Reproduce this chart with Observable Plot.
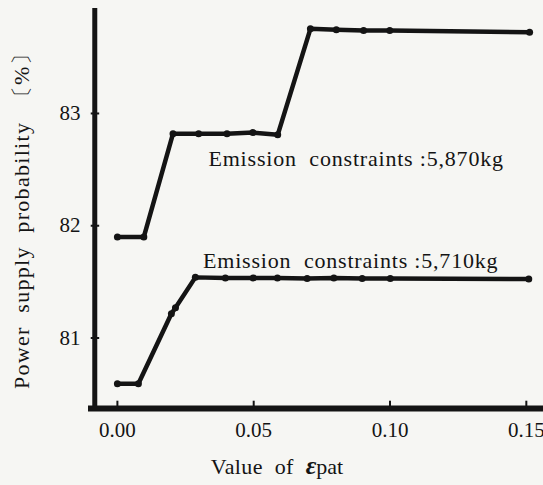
<!DOCTYPE html>
<html>
<head>
<meta charset="utf-8">
<script src="https://cdn.jsdelivr.net/npm/d3@7"></script>
<script src="https://cdn.jsdelivr.net/npm/@observablehq/plot@0.6"></script>
<style>
  html, body { margin: 0; padding: 0; background: #f6f6f3; }
</style>
</head>
<body>
<div id="chart"></div>
<script>
// ---- data ----
const xTicks = [0, 0.05, 0.10, 0.15];
const yTicks = [81, 82, 83];

// Emission constraints: 5,870 kg
const upperX = [0, 0.0097, 0.0204, 0.0298, 0.0402, 0.0497, 0.0588, 0.0708, 0.0803, 0.0903, 0.0999, 0.1512];
const upperY = [81.90, 81.90, 82.82, 82.82, 82.82, 82.83, 82.81, 83.754, 83.745, 83.74, 83.74, 83.724];

// Emission constraints: 5,710 kg
const lowerX = [0, 0.0077, 0.0198, 0.0213, 0.0286, 0.0396, 0.0498, 0.0587, 0.0696, 0.0794, 0.0898, 0.1001, 0.1509];
const lowerY = [80.593, 80.593, 81.216, 81.27, 81.54, 81.535, 81.535, 81.535, 81.53, 81.535, 81.53, 81.53, 81.525];

const seriesLabels = ["Emission  constraints :5,870kg", "Emission  constraints :5,710kg"];
const labelX = [0.0334, 0.0314];
const labelY = [82.595, 81.685];

const yTitle = "Power  supply  probability  〔%〕";
const xTitle = "Value of εpat";

// axis extents
const xMin = -0.0106, xMax = 0.1563;
const yMin = 80.372, yMax = 83.935;
const yAxisX = -0.0083;

const ink = "#141414";
const upper = upperX.map((x, i) => ({x, y: upperY[i]}));
const lower = lowerX.map((x, i) => ({x, y: lowerY[i]}));
const labels = seriesLabels.map((t, i) => ({t, x: labelX[i], y: labelY[i]}));

const chart = Plot.plot({
  width: 543,
  height: 485,
  marginLeft: 88,
  marginRight: 0,
  marginTop: 8,
  marginBottom: 77,
  x: {domain: [xMin, xMax], axis: null},
  y: {domain: [yMin, yMax], axis: null},
  style: {fontFamily: "'Liberation Serif', serif", fontSize: "21px", background: "#f6f6f3", color: ink},
  marks: [
    Plot.ruleX([yAxisX], {y1: () => yMin - 0.02, y2: () => yMax, stroke: ink, strokeWidth: 5}),
    Plot.ruleY([yMin], {x1: () => xMin, x2: () => xMax, stroke: ink, strokeWidth: 6}),
    Plot.ruleX(xTicks, {y1: () => yMin, y2: () => yMin + 0.065, stroke: ink, strokeWidth: 2}),
    Plot.ruleY(yTicks, {x1: () => yAxisX - 0.0013, x2: () => yAxisX + 0.0018, stroke: ink, strokeWidth: 2}),
    Plot.axisX({ticks: xTicks, tickSize: 0, tickPadding: 14, tickFormat: d3.format(".2f"), fontSize: 21, label: null}),
    Plot.axisY({ticks: yTicks, tickSize: 0, tickPadding: 8, tickFormat: d3.format("d"), fontSize: 21, label: null}),
    Plot.line(upper, {x: "x", y: "y", stroke: ink, strokeWidth: 4.5}),
    Plot.dot(upper, {x: "x", y: "y", r: 3.5, fill: ink}),
    Plot.line(lower, {x: "x", y: "y", stroke: ink, strokeWidth: 4.5}),
    Plot.dot(lower, {x: "x", y: "y", r: 3.5, fill: ink}),
    Plot.text(labels, {x: "x", y: "y", text: "t", textAnchor: "start", lineAnchor: "middle", fontSize: 22, fill: ink, className: "slabel"}),
    Plot.text([yTitle], {frameAnchor: "left", textAnchor: "middle", lineAnchor: "middle", dx: -67, dy: 7, rotate: -90, fontSize: 22, fill: ink, className: "ytitle"}),
    Plot.text([xTitle], {frameAnchor: "bottom", textAnchor: "middle", lineAnchor: "middle", dx: -39, dy: 58, fontSize: 22, fill: ink, className: "xtitle"})
  ]
});
document.getElementById("chart").appendChild(chart);

// preserve the wide word gaps and style the epsilon
d3.select(chart).selectAll("text").style("white-space", "pre");
d3.select(chart).selectAll(".slabel text").style("letter-spacing", "0.8px");
d3.select(chart).selectAll(".ytitle text").style("letter-spacing", "1.3px");
d3.select(chart).selectAll(".xtitle text").each(function() {
  const t = d3.select(this);
  t.text(null);
  t.append("tspan").text("Value  of  ").style("letter-spacing", "0.4px");
  t.append("tspan").text("ε").style("font-weight", "bold").style("font-style", "italic").style("font-size", "26px");
  t.append("tspan").text("pat");
});
</script>
</body>
</html>
